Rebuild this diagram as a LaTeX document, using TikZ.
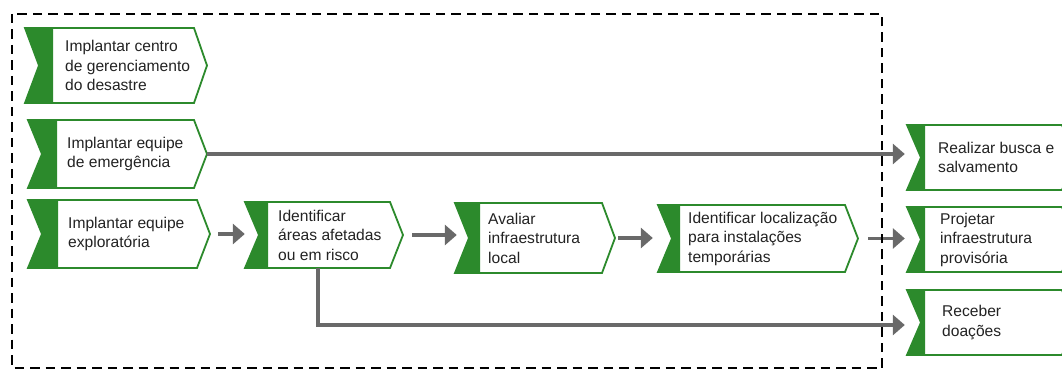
\documentclass[tikz,border=0pt]{standalone}
\usepackage{fontspec}
\setmainfont{Liberation Sans}
\usetikzlibrary{arrows.meta}

\definecolor{evgreen}{RGB}{44,138,44}
\definecolor{flowgrey}{RGB}{105,105,105}
\definecolor{txtgrey}{RGB}{35,35,35}

\tikzset{
  evshape/.style={draw=evgreen, line width=1.8pt, fill=white, line join=miter},
  evtab/.style={fill=evgreen},
  evbox/.style={shape=rectangle, inner sep=0pt, draw=none},
  evtext/.style={anchor=west, align=left, inner sep=0pt, text=txtgrey,
                 font=\fontsize{15.6}{19.5}\selectfont},
  flow/.style={draw=flowgrey, line width=3.2pt, -{Triangle[length=12pt,width=20pt]}},
  scopebox/.style={draw=black, line width=2.8pt, dash pattern=on 9.5pt off 6pt},
}

% process step: #1 name, #2 left, #3 top, #4 bottom, #5 tip x,
% #6 width of the green tab, #7 text x, #8 text
\newcommand\evstep[8]{%
  \path[evshape] (#2,#3) -- (#5-13,#3) -- (#5,{(#3+#4)/2}) -- (#5-13,#4)
      -- (#2,#4) -- (#2+14,{(#3+#4)/2}) -- cycle;
  \fill[evtab] (#2,#3) -- (#2+#6,#3) -- (#2+#6,#4) -- (#2,#4)
      -- (#2+14,{(#3+#4)/2}) -- cycle;
  \node[evbox, minimum width={(#5-#2)*1pt}, minimum height={(#4-#3)*1pt}]
      (#1) at ({(#2+#5)/2},{(#3+#4)/2}) {};
  \node[evtext] (#1-t) at (#7,{(#3+#4)/2}) {#8};
}

\begin{document}
\begin{tikzpicture}[x=1pt,y=-1pt]
  \clip (0,0) rectangle (1062,371);
  \fill[white] (0,0) rectangle (1062,371);

  % steps inside the scope
  \evstep{s1}{25}{28}{103}{207}{28}{65}{Implantar centro\\de gerenciamento\\do desastre}
  \evstep{s2}{28}{120}{188}{207}{29}{67}{Implantar equipe\\de emergência}
  \evstep{s3}{28}{200}{268}{210}{30}{68}{Implantar equipe\\exploratória}
  \evstep{s4}{245}{202}{268}{403}{23}{278}{Identificar\\áreas afetadas\\ou em risco}
  \evstep{s5}{455}{203}{273}{615}{25}{488}{Avaliar\\infraestrutura\\local}
  \evstep{s6}{658}{205}{272}{858}{22}{688}{Identificar localização\\para instalações\\temporárias}

  % follow-up steps
  \evstep{s7}{907}{125}{190}{1075}{18}{938}{Realizar busca e\\salvamento}
  \evstep{s8}{907}{207}{272}{1075}{18}{940}{Projetar\\infraestrutura\\provisória}
  \evstep{s9}{907}{290}{355}{1075}{18}{942}{Receber\\doações}

  % flow connectors
  \draw[flow, shorten <=8pt] (s3.east) -- (s3.east -| s4.west);
  \draw[flow, shorten <=9pt, shorten >=-2pt] (s4.east) -- (s4.east -| s5.west);
  \draw[flow, shorten <=3pt, shorten >=5pt] (s5.east) -- (s5.east -| s6.west);
  \draw[flow, shorten <=10pt, shorten >=2pt] (s6.east) -- (s6.east -| s8.west);
  \draw[flow, shorten >=2pt] (s2.east) -- (s2.east -| s7.west);
  \draw[flow, shorten >=2pt] ([xshift=-6pt]s4.south) |- ([yshift=-2.5pt]s9.west);

  % dashed scope frame
  \draw[scopebox] (12,14) rectangle (882,368);
\end{tikzpicture}
\end{document}
